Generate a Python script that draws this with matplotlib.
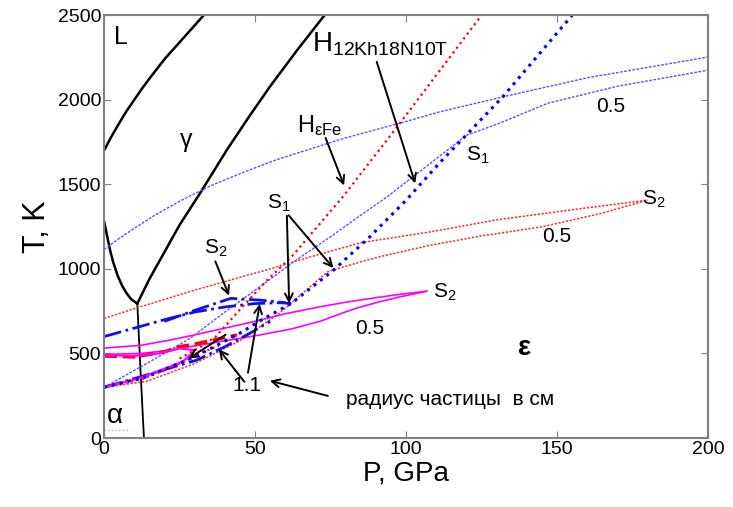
import matplotlib
matplotlib.use("Agg")
import matplotlib.pyplot as plt

plt.rcParams['font.family'] = ['Liberation Sans', 'DejaVu Sans']
plt.rcParams['mathtext.fontset'] = 'custom'
plt.rcParams['mathtext.rm'] = 'Liberation Sans'
plt.rcParams['mathtext.it'] = 'Liberation Sans'

# ---- phase boundaries (black) ----
gl_P = [0, 2.5, 5, 7.5, 10, 12.5, 15, 20, 25, 30, 33]
gl_T = [1700, 1785, 1862, 1935, 2000, 2065, 2125, 2240, 2340, 2440, 2500]
ag_P = [0, 0.5, 1, 2, 3, 4.5, 6, 7.5, 9, 11]
ag_T = [1280, 1240, 1195, 1110, 1040, 960, 900, 855, 820, 795]
ge_P = [11, 15, 20, 25, 31.8, 40.6, 48, 55, 64, 73]
ge_T = [795, 940, 1100, 1260, 1448, 1702, 1900, 2080, 2295, 2500]
ae_P = [11, 12, 13.2]
ae_T = [795, 420, 0]

# ---- Hugoniots ----
hfe_P = [25, 32, 37, 45, 54, 62, 79, 98, 125]
hfe_T = [470, 540, 600, 760, 934, 1070, 1425, 1862, 2500]
hst_P = [0, 14, 30, 45, 52, 62, 76, 88, 100, 111, 132, 155]
hst_T = [300, 362, 480, 620, 697, 796, 993, 1190, 1406, 1625, 2017, 2500]

# ---- isentropes, r = 0.5 cm (blue) ----
b05a_P = [0, 5, 10, 17, 25, 35, 48, 57, 67, 80, 98, 111, 132, 160, 200]
b05a_T = [1115, 1180, 1240, 1320, 1400, 1490, 1584, 1645, 1702, 1775, 1862, 1928, 2017, 2130, 2253]
b05b_P = [0, 15, 28.5, 40, 52, 63, 75, 84, 94, 107, 120, 131, 147, 170, 200]
b05b_T = [300, 450, 590, 745, 900, 1045, 1190, 1305, 1430, 1610, 1790, 1862, 1980, 2080, 2175]

# ---- isentropes, r = 0.5 cm (red) ----
r05a_P = [0, 10, 20, 30, 40, 55, 70, 85, 108, 130, 155, 180]
r05a_T = [707, 765, 820, 875, 925, 1000, 1080, 1155, 1219, 1290, 1350, 1407]
r05b_P = [0, 14, 30, 45, 58, 66, 74, 85, 92, 108, 125, 145, 165, 180]
r05b_T = [300, 335, 440, 575, 738, 860, 983, 1042, 1075, 1140, 1195, 1249, 1330, 1407]

# ---- isentropes, r = 0.5 cm (magenta) ----
m05a_P = [0, 12, 22, 30, 40, 50, 60, 71.5, 80, 90, 98, 106.8]
m05a_T = [532, 548, 580, 610, 650, 690, 735, 776, 803, 830, 850, 868]
m05b_P = [106.8, 98, 90, 84, 79, 71.5, 62, 51.7, 40, 30, 20, 12, 0]
m05b_T = [868, 835, 800, 770, 740, 690, 645, 610, 575, 545, 515, 500, 495]

# ---- isentropes, r = 1.1 cm ----
b11a_P = [0, 10, 20, 30, 40, 50, 58, 62]
b11a_T = [600, 650, 700, 745, 775, 795, 800, 796]
b11b_P = [20, 30, 42, 52, 60]
b11b_T = [690, 755, 826, 815, 800]
b11c_P = [0, 12, 30.7, 40, 48.3, 55]
b11c_T = [300, 362, 461, 540, 620, 690]
r11a_P = [0, 10, 20, 25, 30, 35, 44]
r11a_T = [485, 480, 510, 540, 555, 575, 609]
r11b_P = [0, 12, 20, 27, 30, 38]
r11b_T = [300, 345, 400, 455, 490, 545]
m11a_P = [0, 12, 20, 26, 29.6]
m11a_T = [300, 355, 410, 451, 509]
m11b_P = [0, 10, 18, 25, 29.6]
m11b_T = [490, 486, 500, 530, 520]

fig = plt.figure(figsize=(7.33, 5.07), dpi=100)
ax = fig.add_axes([0.142, 0.136, 0.824, 0.834])

k = dict(color='black', lw=1.8)
ax.plot(gl_P, gl_T, **k)
ax.plot(ag_P, ag_T, **k)
ax.plot(ge_P, ge_T, **k)
ax.plot(ae_P, ae_T, color='black', lw=1.3)

ax.plot(b05a_P, b05a_T, color='#5555ff', lw=1.0, ls=(0, (2, 1)))
ax.plot(b05b_P, b05b_T, color='#5555ff', lw=1.0, ls=(0, (2, 1)))
ax.plot(r05a_P, r05a_T, color='#ff3030', lw=1.1, ls=(0, (1.5, 1)))
ax.plot(r05b_P, r05b_T, color='#ff3030', lw=1.1, ls=(0, (1.5, 1)))
ax.plot(m05a_P, m05a_T, color='#ff00ff', lw=1.2)
ax.plot(m05b_P, m05b_T, color='#ff00ff', lw=1.2)

ax.plot(b11a_P, b11a_T, color='#1010ee', lw=2.0, ls='-.')
ax.plot(b11b_P, b11b_T, color='#1010ee', lw=2.0, ls='-.')
ax.plot(b11c_P, b11c_T, color='#1010ee', lw=2.0, ls='-.')
ax.plot(r11a_P, r11a_T, color='red', lw=2.5, ls='--')
ax.plot(r11b_P, r11b_T, color='red', lw=1.5, ls=':')
ax.plot(m11a_P, m11a_T, color='#ff00ff', lw=1.6)
ax.plot(m11b_P, m11b_T, color='#ff00ff', lw=1.6)

ax.plot(hfe_P, hfe_T, color='red', lw=1.6, ls=':')
ax.plot(hst_P, hst_T, color='blue', lw=2.2, ls=':')

ax.plot([0, 8.5], [47, 47], color='#88cc88', lw=1.0, ls=':')

ax.set_xlim(0, 200)
ax.set_ylim(0, 2500)
ax.set_xticks([0, 50, 100, 150, 200])
ax.set_yticks([0, 500, 1000, 1500, 2000, 2500])
ax.tick_params(direction='in', top=True, right=True, labelsize=14,
               color='#808080', length=5, pad=2)
for s in ax.spines.values():
    s.set_color('#808080')
    s.set_linewidth(1.5)
ax.set_xlabel('P, GPa', fontsize=20, labelpad=2)
ax.set_ylabel('T, K', fontsize=22, labelpad=4)

ax.text(3.2, 2440, 'L', fontsize=18, va='top')
ax.text(25, 1760, 'γ', fontsize=18, va='center')
ax.text(1, 130, 'α', fontsize=20, va='center')
ax.text(137, 530, 'ε', fontsize=20, va='center', fontweight='bold')

ax.text(69, 2330, r'$\mathrm{H}_{\mathrm{12Kh18N10T}}$', fontsize=20, va='center')
ax.text(64, 1850, r'$\mathrm{H}_{\mathrm{\epsilon Fe}}$', fontsize=17, va='center')

lab = dict(fontsize=15, va='center')
ax.text(163, 1960, '0.5', **lab)
ax.text(120, 1670, r'$\mathrm{S}_{1}$', **lab)
ax.text(54, 1390, r'$\mathrm{S}_{1}$', **lab)
ax.text(178, 1410, r'$\mathrm{S}_{2}$', **lab)
ax.text(145, 1190, '0.5', **lab)
ax.text(33, 1120, r'$\mathrm{S}_{2}$', **lab)
ax.text(109, 860, r'$\mathrm{S}_{2}$', **lab)
ax.text(83, 650, '0.5', **lab)
ax.text(42.5, 310, '1.1', **lab)
ax.text(80, 225, 'радиус частицы  в см', fontsize=15, va='center')

arr = dict(arrowstyle='->', color='black', lw=1.4, mutation_scale=14)
def arrow(x0, y0, x1, y1):
    ax.annotate('', xy=(x1, y1), xytext=(x0, y0), arrowprops=arr)

arrow(41, 620, 27.2, 461)
arrow(47, 320, 37.4, 538)
arrow(47.5, 370, 51.7, 810)
arrow(60.5, 1330, 61.3, 780)
arrow(60.5, 1330, 76.5, 993)
arrow(36.5, 1060, 41.7, 827)
arrow(73, 1790, 79.8, 1478)
arrow(90, 2240, 103.3, 1490)
arrow(75, 245, 54, 343)

fig.savefig('out.png', dpi=100)
